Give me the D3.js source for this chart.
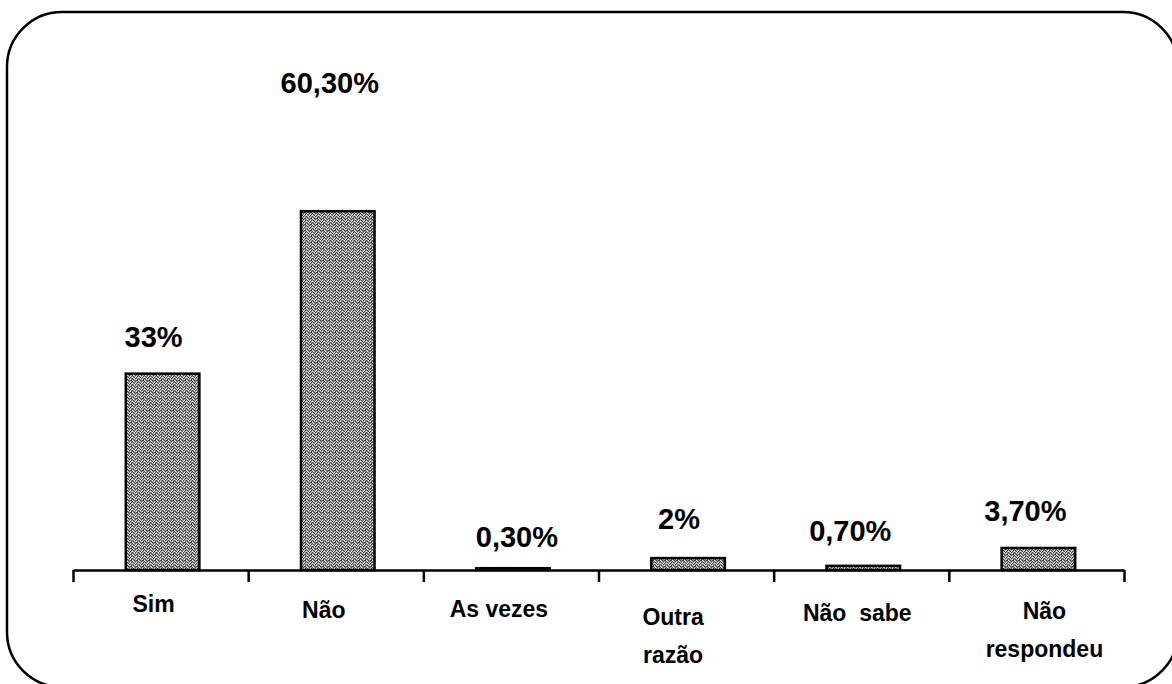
<!DOCTYPE html>
<html>
<head>
<meta charset="utf-8">
<script src="https://cdn.jsdelivr.net/npm/d3@7"></script>
<style>
  html, body { margin: 0; padding: 0; background: #fff; }
  svg { display: block; }
  text { font-family: "Liberation Sans", Arial, Helvetica, sans-serif; font-weight: bold; fill: #000; }
</style>
</head>
<body>
<svg id="chart" width="1172" height="684"></svg>
<script>
// Survey answers and their shares (%)
const categories = [["Sim"], ["Não"], ["As vezes"], ["Outra", "razão"], ["Não  sabe"], ["Não", "respondeu"]];
const values = [33, 60.3, 0.3, 2, 0.7, 3.7];
const valueLabels = ["33%", "60,30%", "0,30%", "2%", "0,70%", "3,70%"];

// Label placement: horizontal nudge and lift above the bar top
const labelDx = [-9, -8, 4, -9, -13, -13];
const labelLift = [27, 118, 21, 29, 25, 27];
const catDx = [-9, -14, -14, -15, -6, 6];
const catBaseline = [612, 618, 617, 625, 621, 619];

const W = 1172, H = 684;
const svg = d3.select("#chart");

// Bar texture: a grainy grey stipple
const defs = svg.append("defs");
const tile = 6;
const pat = defs.append("pattern").attr("id", "grain")
  .attr("width", tile).attr("height", tile).attr("patternUnits", "userSpaceOnUse");
pat.append("rect").attr("width", tile).attr("height", tile).attr("fill", "#a2a2a2");
const darkDots = [[0,0],[3,0],[5,1],[1,1],[2,2],[4,2],[0,3],[3,3],[5,4],[1,4],[2,5],[4,5],[5,2]];
const lightDots = [[2,0],[4,1],[0,2],[1,3],[4,4],[3,5],[0,5]];
darkDots.forEach(([px, py]) =>
  pat.append("rect").attr("x", px).attr("y", py).attr("width", 1).attr("height", 1).attr("fill", "#404040"));
lightDots.forEach(([px, py]) =>
  pat.append("rect").attr("x", px).attr("y", py).attr("width", 1).attr("height", 1).attr("fill", "#f2f2f2"));

// Rounded frame
svg.append("rect")
  .attr("x", 7).attr("y", 12).attr("width", 1171).attr("height", 675)
  .attr("rx", 55).attr("ry", 55)
  .attr("fill", "none").attr("stroke", "#000").attr("stroke-width", 2.5);

const x0 = 73, x1 = 1124, base = 570;
const x = d3.scaleBand().domain(d3.range(values.length)).range([x0 + 2, x1 + 2])
  .paddingInner(0.58).paddingOuter(0.29);
const y = d3.scaleLinear().domain([0, 70]).range([base, base - 70 * 5.95]);

// Bars
svg.append("g").selectAll("rect").data(values).join("rect")
  .attr("x", (d, i) => x(i))
  .attr("y", d => y(d))
  .attr("width", x.bandwidth())
  .attr("height", d => y(0) - y(d))
  .attr("fill", "url(#grain)")
  .attr("stroke", "#000").attr("stroke-width", 2.5);

// Axis with ticks on category boundaries
const edges = d3.scaleLinear().domain([0, values.length]).range([x0, x1]);
const axis = svg.append("g").attr("transform", `translate(0,${base})`)
  .call(d3.axisBottom(edges).tickValues(d3.range(values.length + 1))
    .tickFormat("").tickSizeInner(12).tickSizeOuter(0));
axis.select(".domain").attr("stroke", "#000").attr("stroke-width", 2.5);
axis.selectAll(".tick line").attr("stroke", "#000").attr("stroke-width", 2.5);

// Value labels
svg.append("g").selectAll("text").data(values).join("text")
  .attr("x", (d, i) => x(i) + x.bandwidth() / 2 + labelDx[i])
  .attr("y", (d, i) => y(d) - labelLift[i])
  .attr("text-anchor", "middle")
  .style("font-size", "29px")
  .text((d, i) => valueLabels[i]);

// Category labels
const cat = svg.append("g").selectAll("text").data(categories).join("text")
  .attr("y", (d, i) => catBaseline[i])
  .attr("text-anchor", "middle")
  .style("font-size", "23px")
  .style("white-space", "pre");
cat.each(function(lines, i) {
  d3.select(this).selectAll("tspan").data(lines).join("tspan")
    .attr("x", x(i) + x.bandwidth() / 2 + catDx[i])
    .attr("dy", (l, j) => j === 0 ? 0 : 38)
    .text(l => l);
});
</script>
</body>
</html>
